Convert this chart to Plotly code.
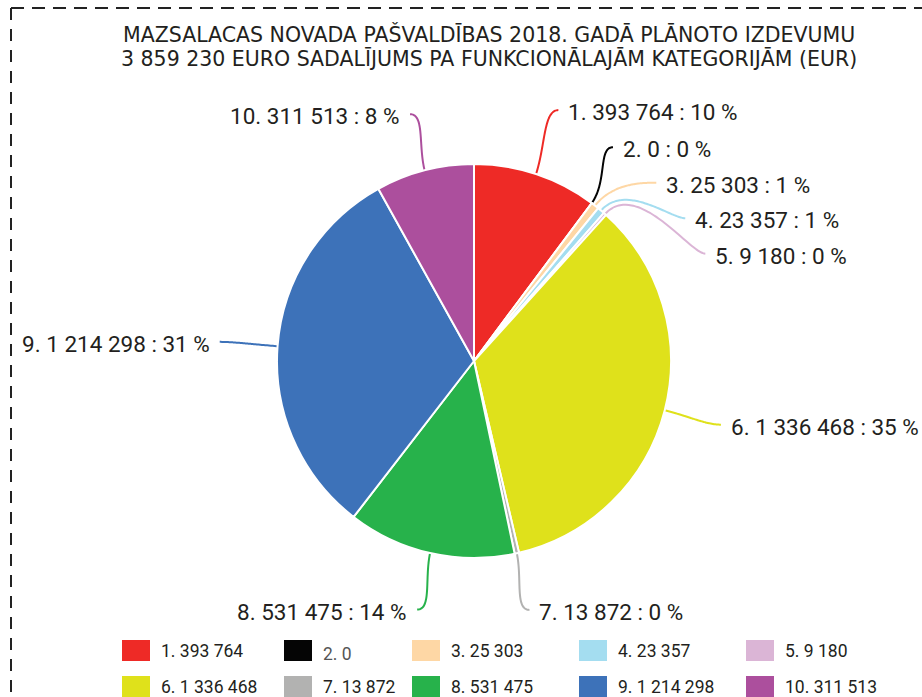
import math
import plotly.graph_objects as go

# ---------------- data ----------------
categories = ["1", "2", "3", "4", "5", "6", "7", "8", "9", "10"]
values = [393764, 0, 25303, 23357, 9180, 1336468, 13872, 531475, 1214298, 311513]
colors = ["#EE2A26", "#050505", "#FED7A5", "#A4DDF0", "#DBB5D6",
          "#DFE11B", "#B2B2B1", "#27B24B", "#3D72B9", "#AC4F9D"]
title_lines = ["MAZSALACAS NOVADA PAŠVALDĪBAS 2018. GADĀ PLĀNOTO IZDEVUMU",
               "3 859 230 EURO SADALĪJUMS PA FUNKCIONĀLAJĀM KATEGORIJĀM (EUR)"]

# ---------------- layout constants ----------------
W, H = 922, 697
CX, CY, R = 474, 361, 197        # pie centre / radius in px
RL = 255                          # label ring radius
GAP = 35.5                        # min vertical gap between labels
LEG_COLS = [122, 284, 412, 579, 746]
LEG_ROWS = [651, 687]
TXT = "#231F20"


def fmt(v):
    return f"{v:,}".replace(",", " ")


total = sum(values)
fracs = [v / total for v in values]

fig = go.Figure()

fig.add_trace(go.Pie(
    labels=[f"{c}. {fmt(v)}" for c, v in zip(categories, values)],
    values=values,
    sort=False,
    direction="clockwise",
    rotation=0,
    marker=dict(colors=colors, line=dict(color="white", width=2)),
    textinfo="none",
    hoverinfo="label+percent",
    showlegend=False,
    domain=dict(x=[(CX - R) / W, (CX + R) / W],
                y=[1 - (CY + R) / H, 1 - (CY - R) / H]),
))

# ---- label placement computed from data ----
cum = 0.0
items = []
for i, f in enumerate(fracs):
    mid = (cum + f / 2) * 2 * math.pi
    cum += f
    side = 1 if math.sin(mid) >= 0 else -1
    y_nat = CY - RL * math.cos(mid)
    items.append(dict(i=i, ang=mid, side=side, y=y_nat, y_nat=y_nat))


def push_down(ys):
    out = []
    for y in ys:
        if out and y < out[-1] + GAP:
            y = out[-1] + GAP
        out.append(y)
    return out


def balanced(ys):
    clusters = []  # [n, sum of (target - j*GAP)]
    for y in ys:
        clusters.append([1, y])
        while len(clusters) > 1:
            n0, t0 = clusters[-2]
            n1, t1 = clusters[-1]
            if t1 / n1 < t0 / n0 + n0 * GAP:
                clusters[-2] = [n0 + n1, t0 + t1 - n1 * n0 * GAP]
                clusters.pop()
            else:
                break
    out = []
    for n, t in clusters:
        top = t / n
        out.extend(top + j * GAP for j in range(n))
    return out


for side in (1, -1):
    grp = sorted([it for it in items if it["side"] == side], key=lambda d: d["y"])
    nat = [it["y"] for it in grp]
    a = push_down(nat)
    b = balanced(nat)
    for it, ya, yb in zip(grp, a, b):
        it["y"] = 0.75 * ya + 0.25 * yb

annotations = []
for it in items:
    i, a, side = it["i"], it["ang"], it["side"]
    dy = it["y"] - CY
    dx_circle = math.sqrt(max(RL ** 2 - dy ** 2, 0))
    dx_nat = abs(RL * math.sin(a))
    dx = dx_circle if dx_circle >= 0.8 * dx_nat else dx_nat * 1.05
    ex, ey = CX + side * dx, it["y"]
    ux, uy = math.sin(a), -math.cos(a)
    p0 = (CX + (R - 1) * ux, CY + (R - 1) * uy)
    dist = math.hypot(ex - p0[0], ey - p0[1])
    p1 = (p0[0] + ux * dist * 0.45, p0[1] + uy * dist * 0.45)
    h = min(15, dist * 0.25)
    p2 = (ex - side * h, ey)
    p3 = (ex, ey)
    xs, ys = [], []
    for k in range(41):
        t = k / 40
        m = 1 - t
        xs.append(m**3 * p0[0] + 3 * m**2 * t * p1[0] + 3 * m * t**2 * p2[0] + t**3 * p3[0])
        ys.append(m**3 * p0[1] + 3 * m**2 * t * p1[1] + 3 * m * t**2 * p2[1] + t**3 * p3[1])
    fig.add_trace(go.Scatter(x=xs, y=ys, mode="lines",
                             line=dict(color=colors[i], width=2, shape="spline"),
                             hoverinfo="skip", showlegend=False))
    pct = round(fracs[i] * 100)
    annotations.append(dict(
        x=ex + side * 8, y=ey + 2, xref="x", yref="y",
        text=f"{categories[i]}. {fmt(values[i])} : {pct} %",
        showarrow=False, xanchor="left" if side > 0 else "right", yanchor="middle",
        font=dict(family="Roboto, Arial, sans-serif", size=22.5, color=TXT),
    ))

# ---- custom legend ----
shapes = []
for i, (c, v) in enumerate(zip(categories, values)):
    col, row = i % 5, i // 5
    x0 = LEG_COLS[col]
    yc = LEG_ROWS[row]
    shapes.append(dict(type="rect", xref="x", yref="y",
                       x0=x0, x1=x0 + 28, y0=yc - 11, y1=yc + 10,
                       fillcolor=colors[i], line=dict(width=0)))
    special = (v == 0)
    annotations.append(dict(
        x=x0 + 37, y=yc + (3 if special else 0), xref="x", yref="y",
        text=f"{c}. {fmt(v)}", showarrow=False, xanchor="left", yanchor="middle",
        font=dict(family="Roboto, Arial, sans-serif", size=17.5,
                  color="#555555" if special else TXT),
    ))

# ---- title ----
for k, line in enumerate(title_lines):
    annotations.append(dict(
        x=489, y=34.5 + k * 24, xref="x", yref="y", text=line, showarrow=False,
        xanchor="center", yanchor="middle",
        font=dict(family="DejaVu Sans, Arial, sans-serif", size=20.5, color=TXT),
    ))

# ---- dashed frame ----
shapes.append(dict(type="line", xref="x", yref="y", x0=11, y0=8, x1=W + 5, y1=8,
                   line=dict(color="#222222", width=2, dash="13px,8px")))
shapes.append(dict(type="line", xref="x", yref="y", x0=11, y0=8, x1=11, y1=H + 5,
                   line=dict(color="#222222", width=2, dash="12px,9px")))

fig.update_layout(
    width=W, height=H,
    margin=dict(l=0, r=0, t=0, b=0),
    paper_bgcolor="white", plot_bgcolor="rgba(0,0,0,0)",
    xaxis=dict(range=[0, W], visible=False, fixedrange=True, domain=[0, 1]),
    yaxis=dict(range=[H, 0], visible=False, fixedrange=True, domain=[0, 1]),
    annotations=annotations,
    shapes=shapes,
    showlegend=False,
)

fig.write_html("out.html")
